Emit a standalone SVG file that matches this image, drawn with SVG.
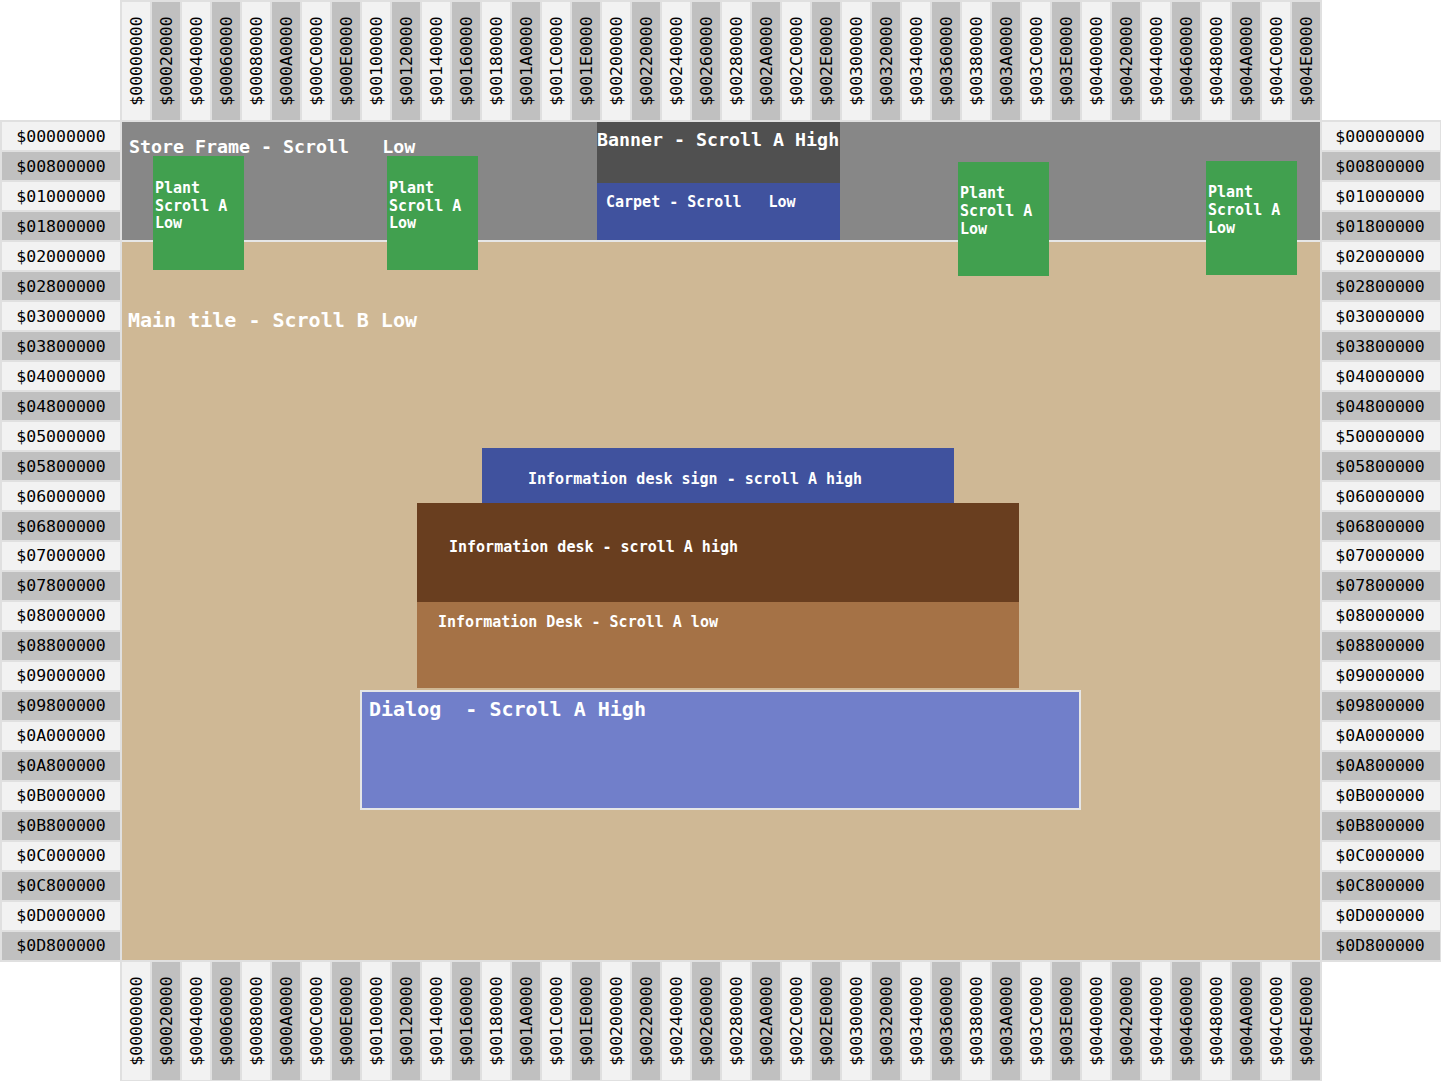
<svg xmlns="http://www.w3.org/2000/svg" width="1441" height="1081" viewBox="0 0 1441 1081">
<style>
.a{fill:#f2f2f2;stroke:#e0e0e0;stroke-width:2}
.b{fill:#c0c0c0;stroke:#e0e0e0;stroke-width:2}
.r{font-family:"DejaVu Sans Mono","Liberation Mono",monospace;font-size:16.5px;fill:#000;text-anchor:middle}
.l{font-family:"DejaVu Sans Mono","Liberation Mono",monospace;font-weight:bold;fill:#fff}
.s15{font-size:15px}
.s18{font-size:18.3px}
.s20{font-size:20px}
.plant{fill:#41a04f}
</style>
<rect width="1441" height="1081" fill="#fff"/>
<g id="top-ruler">
<rect class="a" x="121" y="1" width="30" height="120"/><rect class="b" x="151" y="1" width="30" height="120"/><rect class="a" x="181" y="1" width="30" height="120"/><rect class="b" x="211" y="1" width="30" height="120"/><rect class="a" x="241" y="1" width="30" height="120"/><rect class="b" x="271" y="1" width="30" height="120"/><rect class="a" x="301" y="1" width="30" height="120"/><rect class="b" x="331" y="1" width="30" height="120"/><rect class="a" x="361" y="1" width="30" height="120"/><rect class="b" x="391" y="1" width="30" height="120"/><rect class="a" x="421" y="1" width="30" height="120"/><rect class="b" x="451" y="1" width="30" height="120"/><rect class="a" x="481" y="1" width="30" height="120"/><rect class="b" x="511" y="1" width="30" height="120"/><rect class="a" x="541" y="1" width="30" height="120"/><rect class="b" x="571" y="1" width="30" height="120"/><rect class="a" x="601" y="1" width="30" height="120"/><rect class="b" x="631" y="1" width="30" height="120"/><rect class="a" x="661" y="1" width="30" height="120"/><rect class="b" x="691" y="1" width="30" height="120"/><rect class="a" x="721" y="1" width="30" height="120"/><rect class="b" x="751" y="1" width="30" height="120"/><rect class="a" x="781" y="1" width="30" height="120"/><rect class="b" x="811" y="1" width="30" height="120"/><rect class="a" x="841" y="1" width="30" height="120"/><rect class="b" x="871" y="1" width="30" height="120"/><rect class="a" x="901" y="1" width="30" height="120"/><rect class="b" x="931" y="1" width="30" height="120"/><rect class="a" x="961" y="1" width="30" height="120"/><rect class="b" x="991" y="1" width="30" height="120"/><rect class="a" x="1021" y="1" width="30" height="120"/><rect class="b" x="1051" y="1" width="30" height="120"/><rect class="a" x="1081" y="1" width="30" height="120"/><rect class="b" x="1111" y="1" width="30" height="120"/><rect class="a" x="1141" y="1" width="30" height="120"/><rect class="b" x="1171" y="1" width="30" height="120"/><rect class="a" x="1201" y="1" width="30" height="120"/><rect class="b" x="1231" y="1" width="30" height="120"/><rect class="a" x="1261" y="1" width="30" height="120"/><rect class="b" x="1291" y="1" width="30" height="120"/>
<text class="r" transform="translate(142,61) rotate(-90)">$00000000</text><text class="r" transform="translate(172,61) rotate(-90)">$00020000</text><text class="r" transform="translate(202,61) rotate(-90)">$00040000</text><text class="r" transform="translate(232,61) rotate(-90)">$00060000</text><text class="r" transform="translate(262,61) rotate(-90)">$00080000</text><text class="r" transform="translate(292,61) rotate(-90)">$000A0000</text><text class="r" transform="translate(322,61) rotate(-90)">$000C0000</text><text class="r" transform="translate(352,61) rotate(-90)">$000E0000</text><text class="r" transform="translate(382,61) rotate(-90)">$00100000</text><text class="r" transform="translate(412,61) rotate(-90)">$00120000</text><text class="r" transform="translate(442,61) rotate(-90)">$00140000</text><text class="r" transform="translate(472,61) rotate(-90)">$00160000</text><text class="r" transform="translate(502,61) rotate(-90)">$00180000</text><text class="r" transform="translate(532,61) rotate(-90)">$001A0000</text><text class="r" transform="translate(562,61) rotate(-90)">$001C0000</text><text class="r" transform="translate(592,61) rotate(-90)">$001E0000</text><text class="r" transform="translate(622,61) rotate(-90)">$00200000</text><text class="r" transform="translate(652,61) rotate(-90)">$00220000</text><text class="r" transform="translate(682,61) rotate(-90)">$00240000</text><text class="r" transform="translate(712,61) rotate(-90)">$00260000</text><text class="r" transform="translate(742,61) rotate(-90)">$00280000</text><text class="r" transform="translate(772,61) rotate(-90)">$002A0000</text><text class="r" transform="translate(802,61) rotate(-90)">$002C0000</text><text class="r" transform="translate(832,61) rotate(-90)">$002E0000</text><text class="r" transform="translate(862,61) rotate(-90)">$00300000</text><text class="r" transform="translate(892,61) rotate(-90)">$00320000</text><text class="r" transform="translate(922,61) rotate(-90)">$00340000</text><text class="r" transform="translate(952,61) rotate(-90)">$00360000</text><text class="r" transform="translate(982,61) rotate(-90)">$00380000</text><text class="r" transform="translate(1012,61) rotate(-90)">$003A0000</text><text class="r" transform="translate(1042,61) rotate(-90)">$003C0000</text><text class="r" transform="translate(1072,61) rotate(-90)">$003E0000</text><text class="r" transform="translate(1102,61) rotate(-90)">$00400000</text><text class="r" transform="translate(1132,61) rotate(-90)">$00420000</text><text class="r" transform="translate(1162,61) rotate(-90)">$00440000</text><text class="r" transform="translate(1192,61) rotate(-90)">$00460000</text><text class="r" transform="translate(1222,61) rotate(-90)">$00480000</text><text class="r" transform="translate(1252,61) rotate(-90)">$004A0000</text><text class="r" transform="translate(1282,61) rotate(-90)">$004C0000</text><text class="r" transform="translate(1312,61) rotate(-90)">$004E0000</text>
</g>
<g id="bottom-ruler">
<rect class="a" x="121" y="961" width="30" height="120"/><rect class="b" x="151" y="961" width="30" height="120"/><rect class="a" x="181" y="961" width="30" height="120"/><rect class="b" x="211" y="961" width="30" height="120"/><rect class="a" x="241" y="961" width="30" height="120"/><rect class="b" x="271" y="961" width="30" height="120"/><rect class="a" x="301" y="961" width="30" height="120"/><rect class="b" x="331" y="961" width="30" height="120"/><rect class="a" x="361" y="961" width="30" height="120"/><rect class="b" x="391" y="961" width="30" height="120"/><rect class="a" x="421" y="961" width="30" height="120"/><rect class="b" x="451" y="961" width="30" height="120"/><rect class="a" x="481" y="961" width="30" height="120"/><rect class="b" x="511" y="961" width="30" height="120"/><rect class="a" x="541" y="961" width="30" height="120"/><rect class="b" x="571" y="961" width="30" height="120"/><rect class="a" x="601" y="961" width="30" height="120"/><rect class="b" x="631" y="961" width="30" height="120"/><rect class="a" x="661" y="961" width="30" height="120"/><rect class="b" x="691" y="961" width="30" height="120"/><rect class="a" x="721" y="961" width="30" height="120"/><rect class="b" x="751" y="961" width="30" height="120"/><rect class="a" x="781" y="961" width="30" height="120"/><rect class="b" x="811" y="961" width="30" height="120"/><rect class="a" x="841" y="961" width="30" height="120"/><rect class="b" x="871" y="961" width="30" height="120"/><rect class="a" x="901" y="961" width="30" height="120"/><rect class="b" x="931" y="961" width="30" height="120"/><rect class="a" x="961" y="961" width="30" height="120"/><rect class="b" x="991" y="961" width="30" height="120"/><rect class="a" x="1021" y="961" width="30" height="120"/><rect class="b" x="1051" y="961" width="30" height="120"/><rect class="a" x="1081" y="961" width="30" height="120"/><rect class="b" x="1111" y="961" width="30" height="120"/><rect class="a" x="1141" y="961" width="30" height="120"/><rect class="b" x="1171" y="961" width="30" height="120"/><rect class="a" x="1201" y="961" width="30" height="120"/><rect class="b" x="1231" y="961" width="30" height="120"/><rect class="a" x="1261" y="961" width="30" height="120"/><rect class="b" x="1291" y="961" width="30" height="120"/>
<text class="r" transform="translate(142,1021) rotate(-90)">$00000000</text><text class="r" transform="translate(172,1021) rotate(-90)">$00020000</text><text class="r" transform="translate(202,1021) rotate(-90)">$00040000</text><text class="r" transform="translate(232,1021) rotate(-90)">$00060000</text><text class="r" transform="translate(262,1021) rotate(-90)">$00080000</text><text class="r" transform="translate(292,1021) rotate(-90)">$000A0000</text><text class="r" transform="translate(322,1021) rotate(-90)">$000C0000</text><text class="r" transform="translate(352,1021) rotate(-90)">$000E0000</text><text class="r" transform="translate(382,1021) rotate(-90)">$00100000</text><text class="r" transform="translate(412,1021) rotate(-90)">$00120000</text><text class="r" transform="translate(442,1021) rotate(-90)">$00140000</text><text class="r" transform="translate(472,1021) rotate(-90)">$00160000</text><text class="r" transform="translate(502,1021) rotate(-90)">$00180000</text><text class="r" transform="translate(532,1021) rotate(-90)">$001A0000</text><text class="r" transform="translate(562,1021) rotate(-90)">$001C0000</text><text class="r" transform="translate(592,1021) rotate(-90)">$001E0000</text><text class="r" transform="translate(622,1021) rotate(-90)">$00200000</text><text class="r" transform="translate(652,1021) rotate(-90)">$00220000</text><text class="r" transform="translate(682,1021) rotate(-90)">$00240000</text><text class="r" transform="translate(712,1021) rotate(-90)">$00260000</text><text class="r" transform="translate(742,1021) rotate(-90)">$00280000</text><text class="r" transform="translate(772,1021) rotate(-90)">$002A0000</text><text class="r" transform="translate(802,1021) rotate(-90)">$002C0000</text><text class="r" transform="translate(832,1021) rotate(-90)">$002E0000</text><text class="r" transform="translate(862,1021) rotate(-90)">$00300000</text><text class="r" transform="translate(892,1021) rotate(-90)">$00320000</text><text class="r" transform="translate(922,1021) rotate(-90)">$00340000</text><text class="r" transform="translate(952,1021) rotate(-90)">$00360000</text><text class="r" transform="translate(982,1021) rotate(-90)">$00380000</text><text class="r" transform="translate(1012,1021) rotate(-90)">$003A0000</text><text class="r" transform="translate(1042,1021) rotate(-90)">$003C0000</text><text class="r" transform="translate(1072,1021) rotate(-90)">$003E0000</text><text class="r" transform="translate(1102,1021) rotate(-90)">$00400000</text><text class="r" transform="translate(1132,1021) rotate(-90)">$00420000</text><text class="r" transform="translate(1162,1021) rotate(-90)">$00440000</text><text class="r" transform="translate(1192,1021) rotate(-90)">$00460000</text><text class="r" transform="translate(1222,1021) rotate(-90)">$00480000</text><text class="r" transform="translate(1252,1021) rotate(-90)">$004A0000</text><text class="r" transform="translate(1282,1021) rotate(-90)">$004C0000</text><text class="r" transform="translate(1312,1021) rotate(-90)">$004E0000</text>
</g>
<g id="left-ruler">
<rect class="a" x="1" y="121" width="120" height="30"/><rect class="b" x="1" y="151" width="120" height="30"/><rect class="a" x="1" y="181" width="120" height="30"/><rect class="b" x="1" y="211" width="120" height="30"/><rect class="a" x="1" y="241" width="120" height="30"/><rect class="b" x="1" y="271" width="120" height="30"/><rect class="a" x="1" y="301" width="120" height="30"/><rect class="b" x="1" y="331" width="120" height="30"/><rect class="a" x="1" y="361" width="120" height="30"/><rect class="b" x="1" y="391" width="120" height="30"/><rect class="a" x="1" y="421" width="120" height="30"/><rect class="b" x="1" y="451" width="120" height="30"/><rect class="a" x="1" y="481" width="120" height="30"/><rect class="b" x="1" y="511" width="120" height="30"/><rect class="a" x="1" y="541" width="120" height="30"/><rect class="b" x="1" y="571" width="120" height="30"/><rect class="a" x="1" y="601" width="120" height="30"/><rect class="b" x="1" y="631" width="120" height="30"/><rect class="a" x="1" y="661" width="120" height="30"/><rect class="b" x="1" y="691" width="120" height="30"/><rect class="a" x="1" y="721" width="120" height="30"/><rect class="b" x="1" y="751" width="120" height="30"/><rect class="a" x="1" y="781" width="120" height="30"/><rect class="b" x="1" y="811" width="120" height="30"/><rect class="a" x="1" y="841" width="120" height="30"/><rect class="b" x="1" y="871" width="120" height="30"/><rect class="a" x="1" y="901" width="120" height="30"/><rect class="b" x="1" y="931" width="120" height="30"/>
<text class="r" x="61" y="142">$00000000</text><text class="r" x="61" y="172">$00800000</text><text class="r" x="61" y="202">$01000000</text><text class="r" x="61" y="232">$01800000</text><text class="r" x="61" y="262">$02000000</text><text class="r" x="61" y="292">$02800000</text><text class="r" x="61" y="322">$03000000</text><text class="r" x="61" y="352">$03800000</text><text class="r" x="61" y="382">$04000000</text><text class="r" x="61" y="412">$04800000</text><text class="r" x="61" y="442">$05000000</text><text class="r" x="61" y="472">$05800000</text><text class="r" x="61" y="502">$06000000</text><text class="r" x="61" y="532">$06800000</text><text class="r" x="61" y="561">$07000000</text><text class="r" x="61" y="591">$07800000</text><text class="r" x="61" y="621">$08000000</text><text class="r" x="61" y="651">$08800000</text><text class="r" x="61" y="681">$09000000</text><text class="r" x="61" y="711">$09800000</text><text class="r" x="61" y="741">$0A000000</text><text class="r" x="61" y="771">$0A800000</text><text class="r" x="61" y="801">$0B000000</text><text class="r" x="61" y="831">$0B800000</text><text class="r" x="61" y="861">$0C000000</text><text class="r" x="61" y="891">$0C800000</text><text class="r" x="61" y="921">$0D000000</text><text class="r" x="61" y="951">$0D800000</text>
</g>
<g id="right-ruler">
<rect class="a" x="1321" y="121" width="120" height="30"/><rect class="b" x="1321" y="151" width="120" height="30"/><rect class="a" x="1321" y="181" width="120" height="30"/><rect class="b" x="1321" y="211" width="120" height="30"/><rect class="a" x="1321" y="241" width="120" height="30"/><rect class="b" x="1321" y="271" width="120" height="30"/><rect class="a" x="1321" y="301" width="120" height="30"/><rect class="b" x="1321" y="331" width="120" height="30"/><rect class="a" x="1321" y="361" width="120" height="30"/><rect class="b" x="1321" y="391" width="120" height="30"/><rect class="a" x="1321" y="421" width="120" height="30"/><rect class="b" x="1321" y="451" width="120" height="30"/><rect class="a" x="1321" y="481" width="120" height="30"/><rect class="b" x="1321" y="511" width="120" height="30"/><rect class="a" x="1321" y="541" width="120" height="30"/><rect class="b" x="1321" y="571" width="120" height="30"/><rect class="a" x="1321" y="601" width="120" height="30"/><rect class="b" x="1321" y="631" width="120" height="30"/><rect class="a" x="1321" y="661" width="120" height="30"/><rect class="b" x="1321" y="691" width="120" height="30"/><rect class="a" x="1321" y="721" width="120" height="30"/><rect class="b" x="1321" y="751" width="120" height="30"/><rect class="a" x="1321" y="781" width="120" height="30"/><rect class="b" x="1321" y="811" width="120" height="30"/><rect class="a" x="1321" y="841" width="120" height="30"/><rect class="b" x="1321" y="871" width="120" height="30"/><rect class="a" x="1321" y="901" width="120" height="30"/><rect class="b" x="1321" y="931" width="120" height="30"/>
<text class="r" x="1380" y="142">$00000000</text><text class="r" x="1380" y="172">$00800000</text><text class="r" x="1380" y="202">$01000000</text><text class="r" x="1380" y="232">$01800000</text><text class="r" x="1380" y="262">$02000000</text><text class="r" x="1380" y="292">$02800000</text><text class="r" x="1380" y="322">$03000000</text><text class="r" x="1380" y="352">$03800000</text><text class="r" x="1380" y="382">$04000000</text><text class="r" x="1380" y="412">$04800000</text><text class="r" x="1380" y="442">$50000000</text><text class="r" x="1380" y="472">$05800000</text><text class="r" x="1380" y="502">$06000000</text><text class="r" x="1380" y="532">$06800000</text><text class="r" x="1380" y="561">$07000000</text><text class="r" x="1380" y="591">$07800000</text><text class="r" x="1380" y="621">$08000000</text><text class="r" x="1380" y="651">$08800000</text><text class="r" x="1380" y="681">$09000000</text><text class="r" x="1380" y="711">$09800000</text><text class="r" x="1380" y="741">$0A000000</text><text class="r" x="1380" y="771">$0A800000</text><text class="r" x="1380" y="801">$0B000000</text><text class="r" x="1380" y="831">$0B800000</text><text class="r" x="1380" y="861">$0C000000</text><text class="r" x="1380" y="891">$0C800000</text><text class="r" x="1380" y="921">$0D000000</text><text class="r" x="1380" y="951">$0D800000</text>
</g>
<g id="main-tile">
<rect x="122" y="122" width="1198" height="838" fill="#cfb895"/>
<text class="l s20" x="128" y="327">Main tile - Scroll B Low</text>
</g>
<g id="store-frame">
<rect x="122" y="122" width="1198" height="118" fill="#878787"/>
<line x1="122" y1="241" x2="1320" y2="241" stroke="#e6e6e6" stroke-width="2"/>
<text class="l s18" x="129" y="153" xml:space="preserve">Store Frame - Scroll   Low</text>
</g>
<g id="banner">
<rect x="597" y="122" width="243" height="61" fill="#505050"/>
<text class="l s18" x="597" y="146">Banner - Scroll A High</text>
</g>
<g id="carpet">
<rect x="597" y="183" width="243" height="57" fill="#40529e"/>
<text class="l s15" x="606" y="207" xml:space="preserve">Carpet - Scroll   Low</text>
</g>
<g id="plant-1">
<rect class="plant" x="153" y="156" width="91" height="114"/>
<text class="l s15" x="155" y="193">Plant</text><text class="l s15" x="155" y="211">Scroll A</text><text class="l s15" x="155" y="228">Low</text>
</g>
<g id="plant-2">
<rect class="plant" x="387" y="156" width="91" height="114"/>
<text class="l s15" x="389" y="193">Plant</text><text class="l s15" x="389" y="211">Scroll A</text><text class="l s15" x="389" y="228">Low</text>
</g>
<g id="plant-3">
<rect class="plant" x="958" y="162" width="91" height="114"/>
<text class="l s15" x="960" y="198">Plant</text><text class="l s15" x="960" y="216">Scroll A</text><text class="l s15" x="960" y="234">Low</text>
</g>
<g id="plant-4">
<rect class="plant" x="1206" y="161" width="91" height="114"/>
<text class="l s15" x="1208" y="197">Plant</text><text class="l s15" x="1208" y="215">Scroll A</text><text class="l s15" x="1208" y="233">Low</text>
</g>
<g id="info-desk-sign">
<rect x="482" y="448" width="472" height="55" fill="#40529e"/>
<text class="l s15" x="528" y="484">Information desk sign - scroll A high</text>
</g>
<g id="info-desk-high">
<rect x="417" y="503" width="602" height="99" fill="#693e1f"/>
<text class="l s15" x="449" y="552">Information desk - scroll A high</text>
</g>
<g id="info-desk-low">
<rect x="417" y="602" width="602" height="86" fill="#a57246"/>
<text class="l s15" x="438" y="627">Information Desk - Scroll A low</text>
</g>
<g id="dialog">
<rect x="361" y="691" width="719" height="118" fill="#717fca" stroke="#e6e6e6" stroke-width="2"/>
<text class="l s20" x="369" y="716" xml:space="preserve">Dialog  - Scroll A High</text>
</g>
<g id="connectors"/>
</svg>
